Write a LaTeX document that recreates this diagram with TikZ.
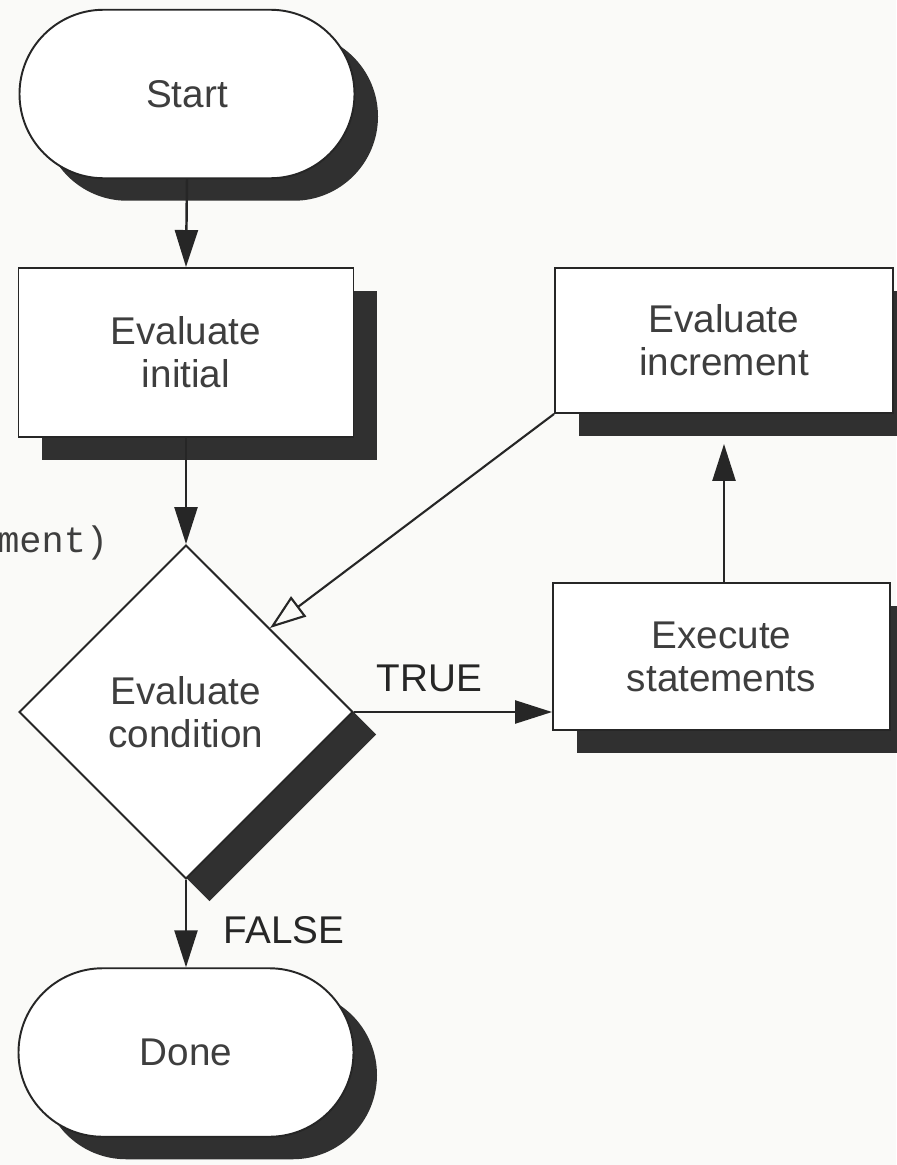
\documentclass[tikz,border=0pt]{standalone}
\usepackage{fontspec}
\setmainfont{Liberation Sans}
\setmonofont{Liberation Mono}
\usetikzlibrary{arrows.meta,positioning,shapes.geometric,shapes.misc,shadows}
\definecolor{ink}{RGB}{38,38,38}
\definecolor{shade}{RGB}{48,48,48}
\definecolor{txt}{RGB}{62,62,62}
\definecolor{paper}{RGB}{250,250,248}

\begin{document}
\begin{tikzpicture}[font=\fontsize{22}{24.5}\selectfont, text=txt,
  flowbox/.style={draw=ink, fill=white, line width=1.1pt, align=center, inner sep=0pt,
    drop shadow={shadow xshift=0.47cm, shadow yshift=-0.45cm, fill=shade, opacity=1}},
  termbox/.style={flowbox, rounded rectangle, minimum width=6.7cm, minimum height=3.37cm},
  procbox/.style={flowbox, rectangle},
  testbox/.style={flowbox, diamond, aspect=1, minimum width=6.68cm, minimum height=6.68cm},
  arr/.style={-{Triangle[length=0.74cm,width=0.46cm]}, ink, line width=1.4pt},
  backarr/.style={-{Triangle[open,length=0.72cm,width=0.5cm]}, ink, line width=1.2pt},
  lbl/.style={inner sep=1pt}]
  \path[use as bounding box, fill=paper] (0,0) rectangle (17.92,-23.30);
  % left column
  \node[termbox] (start) at (3.74,-1.88) {Start};
  \node[procbox, minimum width=6.7cm, minimum height=3.38cm] (init) at (3.72,-7.05) {Evaluate\\initial};
  \node[testbox] (cond) at (3.72,-14.24) {Evaluate\\condition};
  \node[termbox] (done) at (3.72,-21.05) {Done};
  % right column
  \node[procbox, minimum width=6.76cm, minimum height=2.9cm] (incr) at (14.48,-6.81) {Evaluate\\increment};
  \node[procbox, minimum width=6.74cm, minimum height=2.94cm] (exec) at (14.43,-13.13) {Execute\\statements};
  % cut-off code text at the left edge
  \node[anchor=base west, font=\fontsize{21}{24}\ttfamily, inner sep=0pt] (cut) at (-0.06,-11.04) {ment)};
  % connectors
  \draw[arr] (start.south) -- (init.north);
  \draw[arr] (init.south) -- (cond.north);
  \draw[arr] (cond.east) -- node[lbl, above=0.34cm, pos=0.38] (true) {TRUE} (cond.east -| exec.west);
  \draw[arr] (exec.north -| incr.south) -- ([yshift=-0.6cm]incr.south);
  \draw[backarr] (incr.south west) -- (cond.north east);
  \draw[arr] (cond.south) -- node[lbl, right=0.7cm, pos=0.57] (false) {FALSE} (done.north);
\end{tikzpicture}
\end{document}
